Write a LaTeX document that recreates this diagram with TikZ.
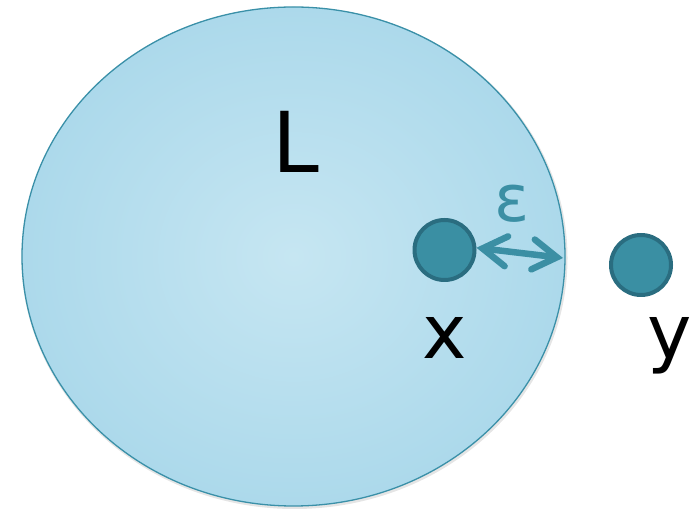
\documentclass[tikz,border=0pt]{standalone}
\usepackage{fontspec}
\setmainfont{DejaVu Sans}
\usetikzlibrary{arrows.meta,shapes.geometric}
\definecolor{edgeblue}{HTML}{3A90A8}
\definecolor{dotfill}{HTML}{3A8FA3}
\definecolor{dotedge}{HTML}{2A6D80}
\definecolor{innerblue}{HTML}{C6E6F2}
\definecolor{outerblue}{HTML}{ACD9EB}
\definecolor{arrowteal}{HTML}{3B8FA4}
\tikzset{
  region/.style={ellipse, draw=edgeblue, line width=1.3pt, inner color=innerblue, outer color=outerblue, minimum width=543pt, minimum height=499pt, inner sep=0pt},
  shadowblob/.style={ellipse, fill=black, opacity=0.10, minimum width=546pt, minimum height=502pt, inner sep=0pt},
  dot/.style={circle, fill=dotfill, draw=dotedge, line width=4pt, minimum size=60pt, inner sep=0pt},
  lbl/.style={font=\fontsize{75}{75}\selectfont, text=black, inner sep=0pt},
  biglbl/.style={font=\fontsize{84}{84}\selectfont, text=black, inner sep=0pt},
  epslbl/.style={font=\fontsize{65}{65}\selectfont, text=arrowteal, inner sep=0pt},
  dist/.style={arrowteal, line width=6.5pt, line cap=round, {Straight Barb[length=24pt,width=30pt,line cap=round]}-{Straight Barb[length=24pt,width=30pt,line cap=round]}}
}
\begin{document}
\begin{tikzpicture}[x=1pt,y=1pt]
\useasboundingbox (0,0) rectangle (695,510);
\node[shadowblob] (sh) at (294.5,252) {};
\node[region] (L) at (293.5,253.5) {};
\node[biglbl, anchor=base] (Ltxt) at (296,337) {L};
\node[dot] (xc) at (444.5,260) {};
\node[dot] (yc) at (641,245) {};
\node[lbl, anchor=base] (xt) at (444.5,151) {x};
\node[lbl, anchor=base] (yt) at (670,151) {y};
\node[epslbl, anchor=base] (eps) at (512,288) {ε};
\coordinate (tip) at (563,252);
\draw[dist] (xc.4) -- (tip);
\end{tikzpicture}
\end{document}
